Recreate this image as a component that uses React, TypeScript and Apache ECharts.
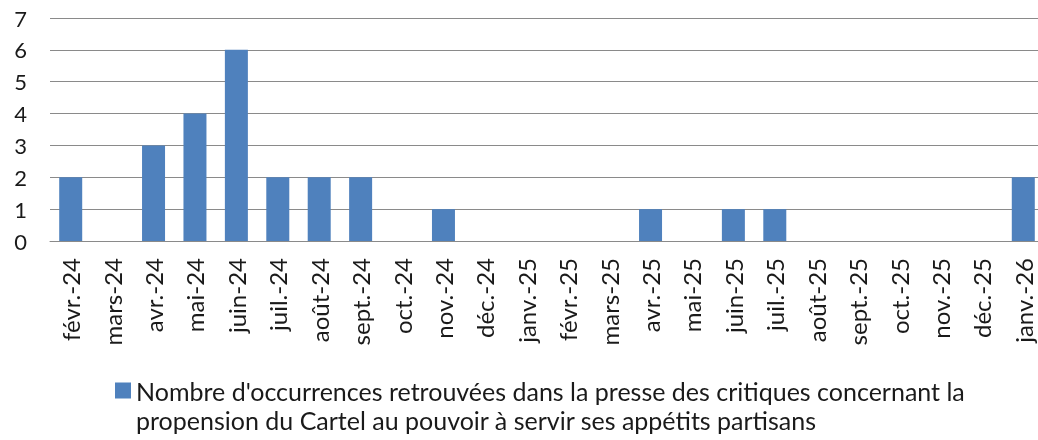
import React, { useEffect, useRef } from "react";
import * as echarts from "echarts";

const categories = [
  "févr.-24", "mars-24", "avr.-24", "mai-24", "juin-24", "juil.-24", "août-24", "sept.-24",
  "oct.-24", "nov.-24", "déc.-24", "janv.-25", "févr.-25", "mars-25", "avr.-25", "mai-25",
  "juin-25", "juil.-25", "août-25", "sept.-25", "oct.-25", "nov.-25", "déc.-25", "janv.-26",
];
const values = [2, 0, 3, 4, 6, 2, 2, 2, 0, 1, 0, 0, 0, 0, 1, 0, 1, 1, 0, 0, 0, 0, 0, 2];
const seriesName =
  "Nombre d'occurrences retrouvées dans la presse des critiques concernant la propension du Cartel au pouvoir à servir ses appétits partisans";
const yMin = 0;
const yMax = 7;
const yInterval = 1;

export default function App() {
  const ref = useRef<HTMLDivElement>(null);
  useEffect(() => {
    if (!ref.current) return;
    const chart = echarts.init(ref.current, null, { renderer: "svg" });
    const font = "Lato";
    chart.setOption({
      animation: false,
      grid: { left: 50, top: 18, bottom: 199, right: 0, containLabel: false },
      xAxis: {
        type: "category",
        data: categories,
        axisLine: { lineStyle: { color: "#8a8a8a", width: 1 } },
        axisTick: { show: false },
        axisLabel: {
          interval: 0,
          rotate: 90,
          margin: 17,
          color: "#1a1a1a",
          fontFamily: font,
          fontSize: 24,
        },
      },
      yAxis: {
        type: "value",
        min: yMin,
        max: yMax,
        interval: yInterval,
        axisLine: { show: false },
        axisTick: { show: false },
        splitLine: { lineStyle: { color: "#8a8a8a", width: 1 } },
        axisLabel: { margin: 23, color: "#1a1a1a", fontFamily: font, fontSize: 22 },
      },
      legend: {
        left: 115,
        top: 376,
        padding: 0,
        itemWidth: 16,
        itemHeight: 58,
        itemGap: 10,
        icon: "path://M0,0h0.01v0.01h-0.01z M0,6.5h16v16h-16z M15.99,57.99h0.01v0.01h-0.01z",
        formatter: (name: string) => name.replace("concernant la ", "concernant la\n"),
        textStyle: {
          color: "#1a1a1a",
          fontFamily: font,
          fontSize: 25,
          lineHeight: 29,
        },
      },
      series: [
        {
          name: seriesName,
          type: "bar",
          data: values,
          barWidth: 23,
          itemStyle: { color: "#4F81BD" },
        },
      ],
    });
    return () => chart.dispose();
  }, []);
  return (
    <div
      ref={ref}
      style={{ position: "fixed", left: 0, top: 0, width: 1044, height: 440 }}
    />
  );
}
